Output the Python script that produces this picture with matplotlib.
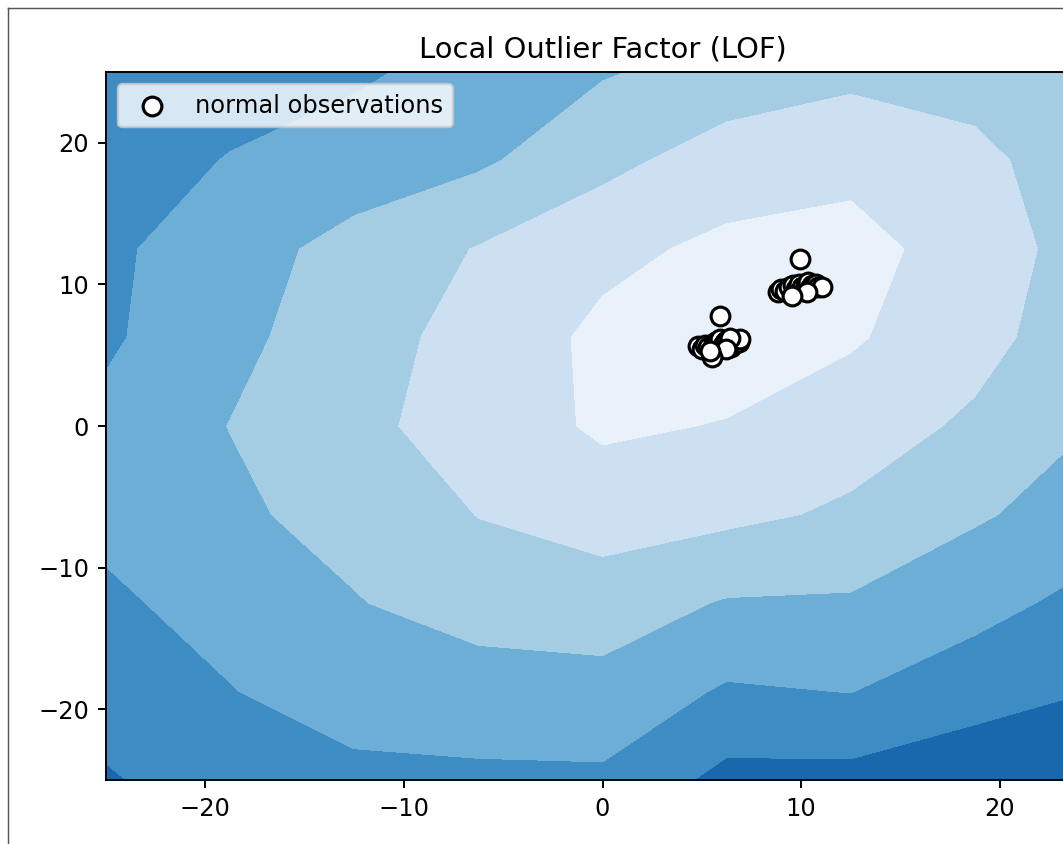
import numpy as np
import matplotlib
matplotlib.use("Agg")
import matplotlib.pyplot as plt
from matplotlib.lines import Line2D

# ── Data ──────────────────────────────────────────────────────────────────────

# coarse evaluation grid for the LOF score
GRID_X = np.linspace(-25, 25, 9)
GRID_Y = np.linspace(-25, 25, 9)

# negative outlier score on the grid, rows go from y = -25 up to y = 25
SCORE = [
    [1.92, 2.42, 2.65, 2.87, 2.83, 1.70, 1.68, 1.50, 1.20],
    [2.35, 2.95, 3.64, 3.40, 3.66, 2.88, 3.02, 2.30, 1.98],
    [2.79, 3.45, 3.93, 4.55, 4.50, 3.92, 3.88, 3.40, 2.58],
    [3.30, 3.80, 4.40, 5.02, 5.45, 5.22, 4.85, 4.10, 3.56],
    [3.25, 4.02, 4.76, 5.43, 6.15, 5.95, 5.42, 4.85, 3.95],
    [2.85, 3.74, 4.56, 5.38, 6.21, 6.50, 6.12, 5.30, 4.39],
    [2.80, 3.58, 4.33, 5.05, 5.76, 6.20, 6.30, 5.60, 4.41],
    [2.50, 3.05, 3.45, 3.84, 4.70, 5.50, 5.75, 5.25, 4.36],
    [2.30, 2.55, 2.85, 3.36, 3.92, 4.35, 4.75, 4.60, 4.30],
]
LEVELS = [0, 1, 2, 3, 4, 5, 6, 7]

# normal observations: lower cluster
CLUSTER_A_X = [4.82, 5.00, 5.15, 5.30, 5.60, 5.75, 5.90, 6.05, 6.15, 6.25, 6.35,
               6.45, 6.55, 6.65, 6.75, 6.85, 6.90, 6.40, 6.20, 5.53, 5.93, 5.43]
CLUSTER_A_Y = [5.64, 5.45, 5.75, 5.55, 5.85, 6.00, 6.15, 5.70, 5.95, 6.10, 5.80,
               5.55, 6.05, 5.85, 6.00, 5.90, 6.15, 6.20, 5.45, 4.87, 7.76, 5.29]

# normal observations: upper cluster
CLUSTER_B_X = [8.84, 9.00, 9.20, 9.40, 9.60, 9.75, 9.90, 10.05, 10.15, 10.25,
               10.35, 10.45, 10.55, 10.65, 10.75, 10.85, 11.06, 10.30, 9.95, 9.55]
CLUSTER_B_Y = [9.45, 9.70, 9.55, 9.85, 9.95, 9.70, 10.05, 9.80, 9.55, 9.95,
               10.15, 9.75, 9.95, 9.85, 10.05, 9.80, 9.80, 9.45, 11.78, 9.17]

# ── Plot ──────────────────────────────────────────────────────────────────────

def main():
    dpi = 174
    fig = plt.figure(figsize=(1063 / dpi, 844 / dpi), dpi=dpi)
    ax = fig.add_axes([0.0997, 0.0758, 0.9342, 0.8389])

    xx, yy = np.meshgrid(GRID_X, GRID_Y)
    ax.contourf(xx, yy, np.array(SCORE), levels=LEVELS, cmap=plt.cm.Blues_r)

    obs_x = CLUSTER_A_X + CLUSTER_B_X
    obs_y = CLUSTER_A_Y + CLUSTER_B_Y
    a = ax.scatter(obs_x, obs_y, c="white", edgecolor="k", s=60, linewidths=1.3)

    ax.set_title("Local Outlier Factor (LOF)")
    ax.set_xlim(-25, 25)
    ax.set_ylim(-25, 25)
    ax.set_xticks([-20, -10, 0, 10, 20])
    ax.set_yticks([-20, -10, 0, 10, 20])
    ax.legend([a], ["normal observations"], loc="upper left")

    # thin frame around the figure
    fig.add_artist(Line2D([8 / 1063, 8 / 1063], [0, 1 - 8 / 844],
                          transform=fig.transFigure, color="#555555", lw=0.6))
    fig.add_artist(Line2D([8 / 1063, 1], [1 - 8 / 844, 1 - 8 / 844],
                          transform=fig.transFigure, color="#555555", lw=0.6))

    fig.savefig("out.png", dpi=dpi)


if __name__ == "__main__":
    main()
